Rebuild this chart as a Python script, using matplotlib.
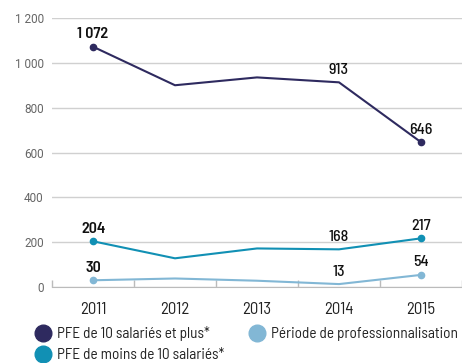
import matplotlib
matplotlib.use("Agg")
import matplotlib.pyplot as plt
from matplotlib.lines import Line2D

years = ["2011", "2012", "2013", "2014", "2015"]
pfe_10_plus = [1072, 900, 935, 913, 646]
pfe_moins_10 = [204, 128, 172, 168, 217]
periode_pro = [30, 38, 28, 13, 54]

series_names = ["PFE de 10 salariés et plus*",
                "PFE de moins de 10 salariés*",
                "Période de professionnalisation"]
colors = ["#2e2a5f", "#1190b4", "#82b7d5"]
labelled = [0, 3, 4]  # years that carry a value label

yticks = [0, 200, 400, 600, 800, 1000, 1200]

narrow = "Barlow Semi Condensed"


def fmt(v):
    return "{:,}".format(v).replace(",", " ")


fig = plt.figure(figsize=(4.62, 3.63), dpi=100)
ax = fig.add_axes([52 / 462, (363 - 287) / 363, 1 - 52 / 462, (287 - 18) / 363])

x = list(range(len(years)))
for vals, col in zip([pfe_10_plus, pfe_moins_10, periode_pro], colors):
    ax.plot(x, vals, color=col, lw=1.5, marker="o", markersize=4.5,
            markevery=[0, len(x) - 1], clip_on=False, zorder=3)
    for i in labelled:
        ax.annotate(fmt(vals[i]), (x[i], vals[i]), xytext=(0, 4),
                    textcoords="offset points", ha="center", va="bottom",
                    fontsize=11.5, family=narrow, color="#111111",
                    fontweight="semibold" if i == 0 else "medium")

ax.set_xlim(-0.5, len(years) - 0.5)
ax.set_ylim(0, 1200)
ax.set_yticks(yticks)
ax.set_yticklabels([fmt(v) for v in yticks], family="Roboto", fontsize=8.5,
                   color="#666666")
ax.tick_params(axis="y", length=0, pad=6)

# gridlines on y, category separators on x
ax.grid(axis="y", color="#d0d0d0", lw=1)
ax.set_axisbelow(True)
ax.set_xticks(x)
ax.set_xticklabels(years, family=narrow, fontsize=12, color="#222222")
ax.set_xticks([i - 0.5 for i in range(len(years) + 1)], minor=True)
ax.tick_params(axis="x", which="major", length=0, pad=11)
ax.tick_params(axis="x", which="minor", direction="in", length=5,
               color="#bbbbbb", width=1)
for s in ["top", "right", "left"]:
    ax.spines[s].set_visible(False)
ax.spines["bottom"].set_color("#bbbbbb")

handles = [Line2D([], [], ls="none", marker="o", markersize=12,
                  color=c) for c in colors]
fig.legend(handles, series_names, loc="upper left",
           bbox_to_anchor=(27 / 462, 1 - 320 / 363), ncol=2, frameon=False,
           prop={"family": narrow, "size": 11}, handletextpad=0.3,
           columnspacing=1.5, labelspacing=0.45, borderaxespad=0,
           handlelength=1.25, labelcolor="#222222")

fig.savefig("out.png", dpi=100)
